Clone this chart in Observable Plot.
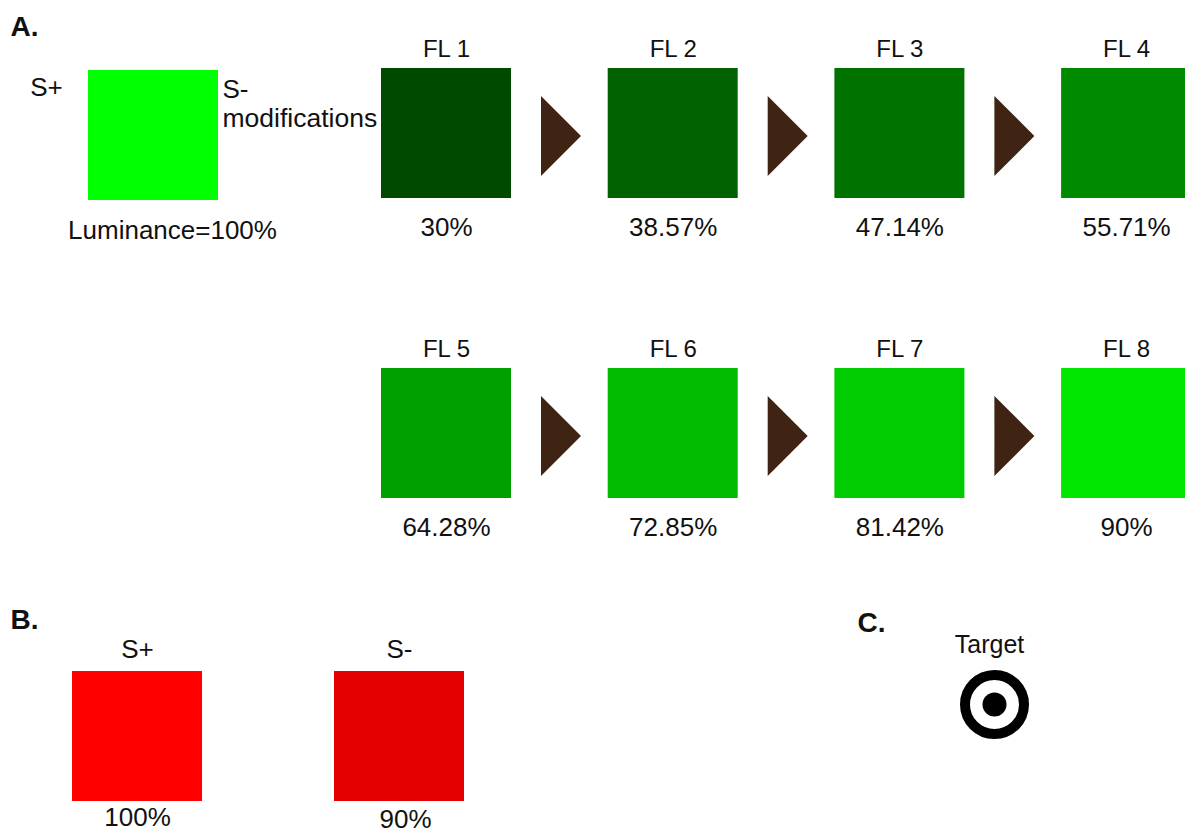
<!DOCTYPE html>
<html>
<head>
<meta charset="utf-8">
<script src="https://cdn.jsdelivr.net/npm/d3@7"></script>
<script src="https://cdn.jsdelivr.net/npm/@observablehq/plot@0.6"></script>
<style>
  html, body { margin: 0; padding: 0; background: #fff; }
  #chart { width: 1185px; height: 832px; overflow: hidden; }
</style>
</head>
<body>
<div id="chart"></div>
<script>
// ---- data ----
const flLabels = ["FL 1", "FL 2", "FL 3", "FL 4", "FL 5", "FL 6", "FL 7", "FL 8"];
const flLuminance = ["30%", "38.57%", "47.14%", "55.71%", "64.28%", "72.85%", "81.42%", "90%"];
const flColors = ["#004a00", "#006200", "#007200", "#008a00", "#00a000", "#00bb00", "#00cc00", "#00e600"];
const greenSPlusLabel = "S+";
const greenSPlusLuminance = "Luminance=100%";
const greenSPlusColor = "#00ff00";
const redLabels = ["S+", "S-"];
const redLuminance = ["100%", "90%"];
const redColors = ["#ff0000", "#e40000"];
const panelLetters = ["A.", "B.", "C."];
const targetLabel = "Target";
const arrowColor = "#3f2414";

// ---- layout (pixel space via identity-like scales) ----
const W = 1185, H = 832, S = 130;
const flCol0 = 381, flColStep = 226.7, flRow0 = 68, flRowStep = 300;

const flBoxes = flLabels.map((label, i) => {
  const col = i % 4, row = Math.floor(i / 4);
  const x1 = flCol0 + col * flColStep, y1 = flRow0 + row * flRowStep;
  return {label, lum: flLuminance[i], color: flColors[i], x1, x2: x1 + S, y1, y2: y1 + S,
          cx: x1 + S / 2, top: y1 - 12, bottom: y1 + S + 37, col, row};
});

// arrows between consecutive boxes in a row
const arrowPts = [];
flBoxes.forEach((b, i) => {
  if (b.col < 3) {
    const xa = b.x2 + 30, xb = b.x2 + 70, cy = b.y1 + S / 2 + 3;
    arrowPts.push({id: i, x: xa, ya: cy - 40, yb: cy + 40});
    arrowPts.push({id: i, x: xb, ya: cy, yb: cy});
  }
});

const splus = {x1: 88, x2: 88 + S, y1: 70, y2: 70 + S};
const redBoxes = redLabels.map((label, i) => {
  const x1 = 72 + i * 262, y1 = 671;
  return {label, lum: redLuminance[i], color: redColors[i], x1, x2: x1 + S, y1, y2: y1 + S,
          cx: x1 + S / 2, top: 657, bottom: 825 + i * 2};
});
const letters = panelLetters.map((t, i) => ({t, x: [10, 10, 857][i], y: [35, 628, 631][i]}));
const target = {x: 994, y: 704};

const font = "Liberation Sans, Arial, Helvetica, sans-serif";
const fs = 26;

const plot = Plot.plot({
  width: W, height: H, margin: 0,
  x: {domain: [0, W], range: [0, W], axis: null},
  y: {domain: [0, H], range: [0, H], axis: null},
  style: {fontFamily: font, background: "#fff"},
  marks: [
    // S+ green square
    Plot.rect([splus], {x1: "x1", x2: "x2", y1: "y1", y2: "y2", fill: greenSPlusColor}),
    Plot.text([greenSPlusLabel], {x: 46, y: 95, text: d => d, fontSize: fs, lineAnchor: "bottom", fill: "#111"}),
    Plot.text(["S-"], {x: 222, y: 97, text: d => d, fontSize: fs, textAnchor: "start", lineAnchor: "bottom", fill: "#111"}),
    Plot.text(["modifications"], {x: 222, y: 126, text: d => d, fontSize: fs + 0.5, textAnchor: "start", lineAnchor: "bottom", fill: "#111"}),
    Plot.text([greenSPlusLuminance], {x: 172, y: 238, text: d => d, fontSize: fs, lineAnchor: "bottom", fill: "#111"}),
    // FL boxes
    Plot.rect(flBoxes, {x1: "x1", x2: "x2", y1: "y1", y2: "y2", fill: "color"}),
    Plot.text(flBoxes, {x: "cx", y: "top", text: "label", fontSize: 24, lineAnchor: "bottom", fill: "#111"}),
    Plot.text(flBoxes, {x: "cx", y: "bottom", text: "lum", fontSize: fs, lineAnchor: "bottom", fill: "#111"}),
    // arrows
    Plot.area(arrowPts, {x1: "x", y1: "ya", y2: "yb", z: "id", fill: arrowColor, curve: "linear"}),
    // red boxes
    Plot.rect(redBoxes, {x1: "x1", x2: "x2", y1: "y1", y2: "y2", fill: "color"}),
    Plot.text(redBoxes, {x: "cx", y: "top", text: "label", fontSize: fs, lineAnchor: "bottom", fill: "#111"}),
    Plot.text(redBoxes, {x: d => d.cx + (d.label === "S-" ? 6 : 0), y: "bottom", text: "lum", fontSize: fs, lineAnchor: "bottom", fill: "#111"}),
    // panel letters
    Plot.text(letters, {x: "x", y: "y", text: "t", fontSize: 28, fontWeight: "bold", textAnchor: "start", lineAnchor: "bottom", fill: "#111"}),
    // target
    Plot.text([targetLabel], {x: 989, y: 652, text: d => d, fontSize: fs - 1, lineAnchor: "bottom", fill: "#111"}),
    Plot.dot([target], {x: "x", y: "y", r: 29.5, stroke: "#000", strokeWidth: 10, fill: "none"}),
    Plot.dot([target], {x: "x", y: "y", r: 12, fill: "#000"})
  ]
});
document.getElementById("chart").appendChild(plot);
</script>
</body>
</html>
